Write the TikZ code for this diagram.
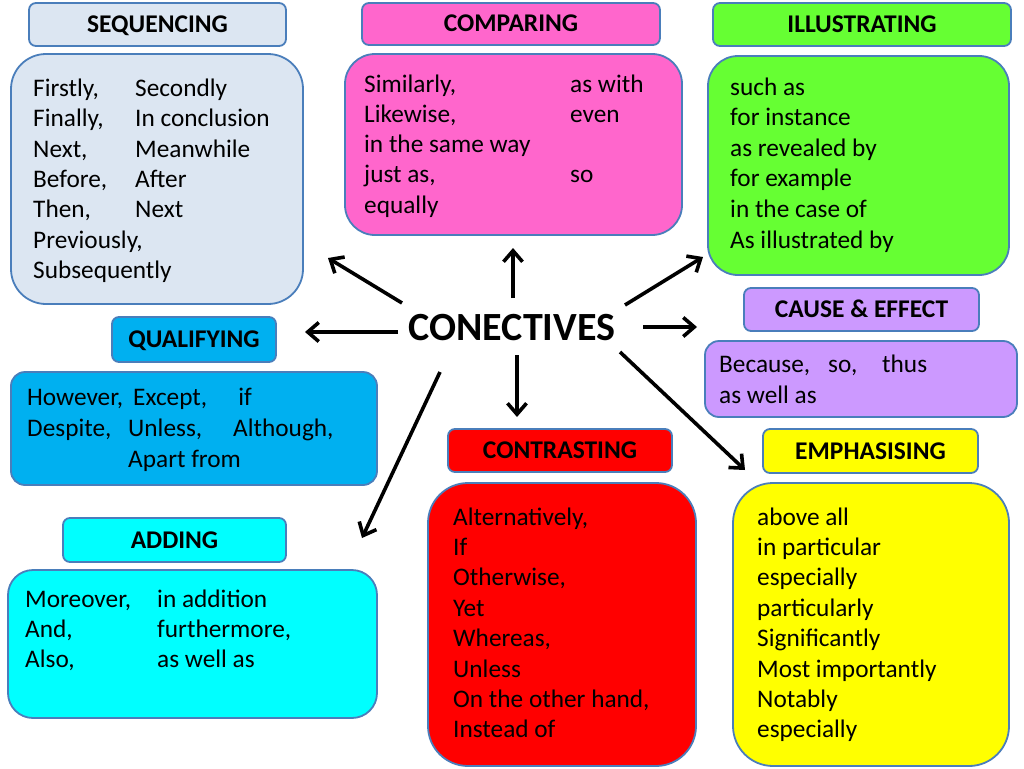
\documentclass[tikz,border=0pt]{standalone}
\usepackage{fontspec}
\setmainfont{Carlito}
\usetikzlibrary{arrows.meta}
\definecolor{bord}{RGB}{74,126,187}
\definecolor{cseq}{RGB}{220,230,242}
\definecolor{ccmp}{RGB}{255,102,204}
\definecolor{cill}{RGB}{102,255,51}
\definecolor{ccau}{RGB}{204,153,255}
\definecolor{cqua}{RGB}{0,176,240}
\definecolor{cadd}{RGB}{0,255,255}
\definecolor{ccon}{RGB}{255,0,0}
\definecolor{cemp}{RGB}{255,255,0}
\newcommand\lineh[1]{\hbox{#1}}
\newcommand\colw[2]{\makebox[#1pt][l]{#2}}
\newcommand\stack[2]{\vtop{\baselineskip=#1pt\lineskiplimit=-100pt #2}}
\begin{document}
\begin{tikzpicture}[x=1pt,y=-1pt,
  body/.style={draw=bord, line width=1.8pt, inner sep=0pt, rounded corners=#1},
  ttl/.style={draw=bord, line width=1.8pt, inner sep=0pt, rounded corners=7pt,
    font=\fontsize{25.5}{30}\selectfont\bfseries, text height=16pt, text depth=0pt},
  txt/.style={inner sep=0pt, anchor=base west, font=\fontsize{25.3}{30}\selectfont},
  arr/.style={line width=3.6pt, -{Straight Barb[length=11pt,width=19pt]}}]
\useasboundingbox[fill=white] (0,0) rectangle (1024,768);

% SEQUENCING
\node[ttl, fill=cseq, minimum width=257pt, minimum height=43pt] (seqT) at (157.5,24.5) {SEQUENCING};
\node[body=35pt, fill=cseq, minimum width=292pt, minimum height=250pt] (seqB) at (157,179) {};
\node[txt] (seqX) at (33,96.5) {\stack{30.3}{%
\lineh{\colw{102}{Firstly,}Secondly}
\lineh{\colw{102}{Finally,}In conclusion}
\lineh{\colw{102}{Next,}Meanwhile}
\lineh{\colw{102}{Before,}After}
\lineh{\colw{102}{Then,}Next}
\lineh{Previously,}
\lineh{Subsequently}}};

% COMPARING
\node[ttl, fill=ccmp, minimum width=298pt, minimum height=42pt] (cmpT) at (511,24) {COMPARING};
\node[body=30pt, fill=ccmp, minimum width=337pt, minimum height=181pt] (cmpB) at (513.5,144.5) {};
\node[txt] (cmpX) at (364,92) {\stack{30.3}{%
\lineh{\colw{206}{Similarly,}as with}
\lineh{\colw{206}{Likewise,}even}
\lineh{in the same way}
\lineh{\colw{206}{just as,}so}
\lineh{equally}}};

% ILLUSTRATING
\node[ttl, fill=cill, minimum width=298pt, minimum height=43pt] (illT) at (862,24.5) {ILLUSTRATING};
\node[body=30pt, fill=cill, minimum width=301pt, minimum height=219pt] (illB) at (858.5,165.5) {};
\node[txt] (illX) at (730,95) {\stack{30.6}{%
\lineh{such as}
\lineh{for instance}
\lineh{as revealed by}
\lineh{for example}
\lineh{in the case of}
\lineh{As illustrated by}}};

% CAUSE & EFFECT
\node[ttl, fill=ccau, minimum width=235pt, minimum height=43pt] (cauT) at (861.5,309.5) {CAUSE \& EFFECT};
\node[body=14pt, fill=ccau, minimum width=312pt, minimum height=76pt] (cauB) at (861,379) {};
\node[txt] (cauX) at (719,372) {\stack{31}{%
\lineh{\colw{109}{Because,}\colw{54}{so,}thus}
\lineh{as well as}}};

% QUALIFYING
\node[ttl, fill=cqua, minimum width=164pt, minimum height=45pt] (quaT) at (194,339.5) {QUALIFYING};
\node[body=14pt, fill=cqua, minimum width=366pt, minimum height=113pt] (quaB) at (194,428.5) {};
\node[txt] (quaX) at (27,405) {\stack{31}{%
\lineh{\colw{106}{However,}\colw{105}{Except,}if}
\lineh{\colw{101}{Despite,}\colw{105}{Unless,}Although,}
\lineh{\colw{101}{}Apart from}}};

% ADDING
\node[ttl, fill=cadd, minimum width=223pt, minimum height=44pt] (addT) at (174.5,540) {ADDING};
\node[body=25pt, fill=cadd, minimum width=369pt, minimum height=148pt] (addB) at (192.5,644) {};
\node[txt] (addX) at (25,607) {\stack{30.2}{%
\lineh{\colw{132}{Moreover,}in addition}
\lineh{\colw{132}{And,}furthermore,}
\lineh{\colw{132}{Also,}as well as}}};

% CONTRASTING
\node[ttl, fill=ccon, minimum width=224pt, minimum height=43pt] (conT) at (560,450.5) {CONTRASTING};
\node[body=40pt, fill=ccon, minimum width=268pt, minimum height=283pt] (conB) at (562,624.5) {};
\node[txt] (conX) at (453,525) {\stack{30.4}{%
\lineh{Alternatively,}
\lineh{If}
\lineh{Otherwise,}
\lineh{Yet}
\lineh{Whereas,}
\lineh{Unless}
\lineh{On the other hand,}
\lineh{Instead of}}};

% EMPHASISING
\node[ttl, fill=cemp, minimum width=215pt, minimum height=44pt] (empT) at (870.5,451) {EMPHASISING};
\node[body=40pt, fill=cemp, minimum width=276pt, minimum height=283pt] (empB) at (871,624.5) {};
\node[txt] (empX) at (757,525) {\stack{30.4}{%
\lineh{above all}
\lineh{in particular}
\lineh{especially}
\lineh{particularly}
\lineh{Significantly}
\lineh{Most importantly}
\lineh{Notably}
\lineh{especially}}};

% CENTRE
\node[inner sep=0pt, anchor=base, font=\fontsize{40}{48}\selectfont\bfseries] (conn) at (512,340) {CONECTIVES};

% arrows
\coordinate (s1) at (402,303); \coordinate (e1) at (328,258);
\coordinate (s2) at (513,298); \coordinate (e2) at (513,248);
\coordinate (s3) at (625,305); \coordinate (e3) at (703,257);
\coordinate (s4) at (398,332); \coordinate (e4) at (305,332);
\coordinate (s5) at (643,327); \coordinate (e5) at (697,327);
\coordinate (s6) at (517,355); \coordinate (e6) at (517,417);
\coordinate (s7) at (440,372); \coordinate (e7) at (362,538);
\coordinate (s8) at (620,352); \coordinate (e8) at (745,470);
\foreach \i in {1,...,8} {\draw[arr] (s\i) -- (e\i);}
\end{tikzpicture}
\end{document}
